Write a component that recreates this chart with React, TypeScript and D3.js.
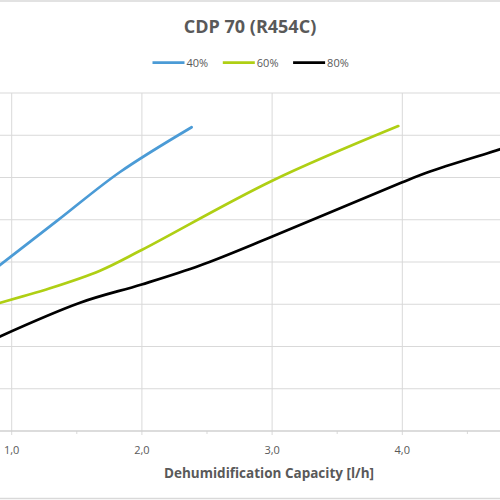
import React from "react";
import * as d3 from "d3";

const title = "CDP 70 (R454C)";
const xTitle = "Dehumidification Capacity [l/h]";
const seriesNames = ["40%", "60%", "80%"];
const seriesColors = ["#4B9BD6", "#AFCF14", "#000000"];

// capacity [l/h] vs temperature-like y value (y labels are cropped off)
const cap40 = [0.849, 1.35, 1.832, 2.382];
const val40 = [18.91, 24.89, 30.65, 35.95];

const cap60 = [0.849, 1.294, 1.678, 1.998, 2.997, 3.969];
const val60 = [14.91, 16.89, 18.97, 21.42, 29.59, 36.09];

const cap80 = [0.849, 1.525, 1.998, 2.446, 2.997, 3.995, 4.213, 4.75, 4.865];
const val80 = [10.77, 15.18, 17.34, 19.59, 22.99, 29.41, 30.71, 33.34, 33.96];

const xTicks = [1, 2, 3, 4, 5];
const xTickLabels = ["1,0", "2,0", "3,0", "4,0"];
const xMinorTicks = [0.5, 1.5, 2.5, 3.5, 4.5];
const yTicks = [0, 5, 10, 15, 20, 25, 30, 35, 40];

const caps = [cap40, cap60, cap80];
const vals = [val40, val60, val80];

const W = 500;
const H = 500;
const x = d3.scaleLinear().domain([1, 4]).range([11.7, 402.3]);
const y = d3.scaleLinear().domain([0, 40]).range([431, 93]);

const line = d3
  .line<[number, number]>()
  .x((d) => x(d[0]))
  .y((d) => y(d[1]))
  .curve(d3.curveCatmullRom.alpha(0.5));

const textColor = "#595959";
const font = "'Open Sans', 'Noto Sans', sans-serif";

export default function App() {
  const plotLeft = x(0.5);
  const plotRight = x(5.5);
  return (
    <svg
      width={W}
      height={H}
      style={{ position: "fixed", left: 0, top: 0, background: "#fff" }}
    >
      <rect x={0} y={0} width={W} height={H} fill="#fff" />
      {/* chart border */}
      <line x1={0} x2={W} y1={1} y2={1} stroke="#d9d9d9" strokeWidth={1.5} />
      <line x1={0} x2={W} y1={498.5} y2={498.5} stroke="#d9d9d9" strokeWidth={1.5} />

      {/* gridlines */}
      {yTicks.filter((t) => t > 0).map((t) => (
        <line key={"h" + t} x1={plotLeft} x2={plotRight} y1={y(t)} y2={y(t)} stroke="#d9d9d9" strokeWidth={1} />
      ))}
      {xTicks.map((t) => (
        <line key={"v" + t} x1={x(t)} x2={x(t)} y1={y(40)} y2={y(0) + 4} stroke="#d9d9d9" strokeWidth={1} />
      ))}
      {xMinorTicks.map((t) => (
        <line key={"m" + t} x1={x(t)} x2={x(t)} y1={y(0)} y2={y(0) + 3} stroke="#d9d9d9" strokeWidth={1} />
      ))}
      <line x1={plotLeft} x2={plotRight} y1={y(0)} y2={y(0)} stroke="#d0d0d0" strokeWidth={1.3} />

      {/* x tick labels */}
      {xTickLabels.map((lab, i) => (
        <text key={"xl" + i} x={x(xTicks[i])} y={454} textAnchor="middle" fontFamily={font} fontSize={11} fill={textColor}>
          {lab}
        </text>
      ))}

      {/* series */}
      {caps.map((c, i) => (
        <path
          key={"s" + i}
          d={line(c.map((cv, j) => [cv, vals[i][j]] as [number, number])) || ""}
          fill="none"
          stroke={seriesColors[i]}
          strokeWidth={2.7}
          strokeLinejoin="round"
          strokeLinecap="round"
        />
      ))}

      {/* title */}
      <text x={250} y={33} textAnchor="middle" fontFamily={font} fontWeight="bold" fontSize={18} fill={textColor}>
        {title}
      </text>

      {/* legend */}
      {seriesNames.map((n, i) => {
        const lx = 152.5 + i * 70.3;
        return (
          <g key={"lg" + i}>
            <line x1={lx} x2={lx + 32} y1={62.7} y2={62.7} stroke={seriesColors[i]} strokeWidth={2.7} />
            <text x={lx + 34} y={67} fontFamily={font} fontSize={11} fill={textColor}>
              {n}
            </text>
          </g>
        );
      })}

      {/* x axis title */}
      <text x={269} y={477.7} textAnchor="middle" fontFamily={font} fontWeight="bold" fontSize={13.5} fill={textColor}>
        {xTitle}
      </text>
    </svg>
  );
}
